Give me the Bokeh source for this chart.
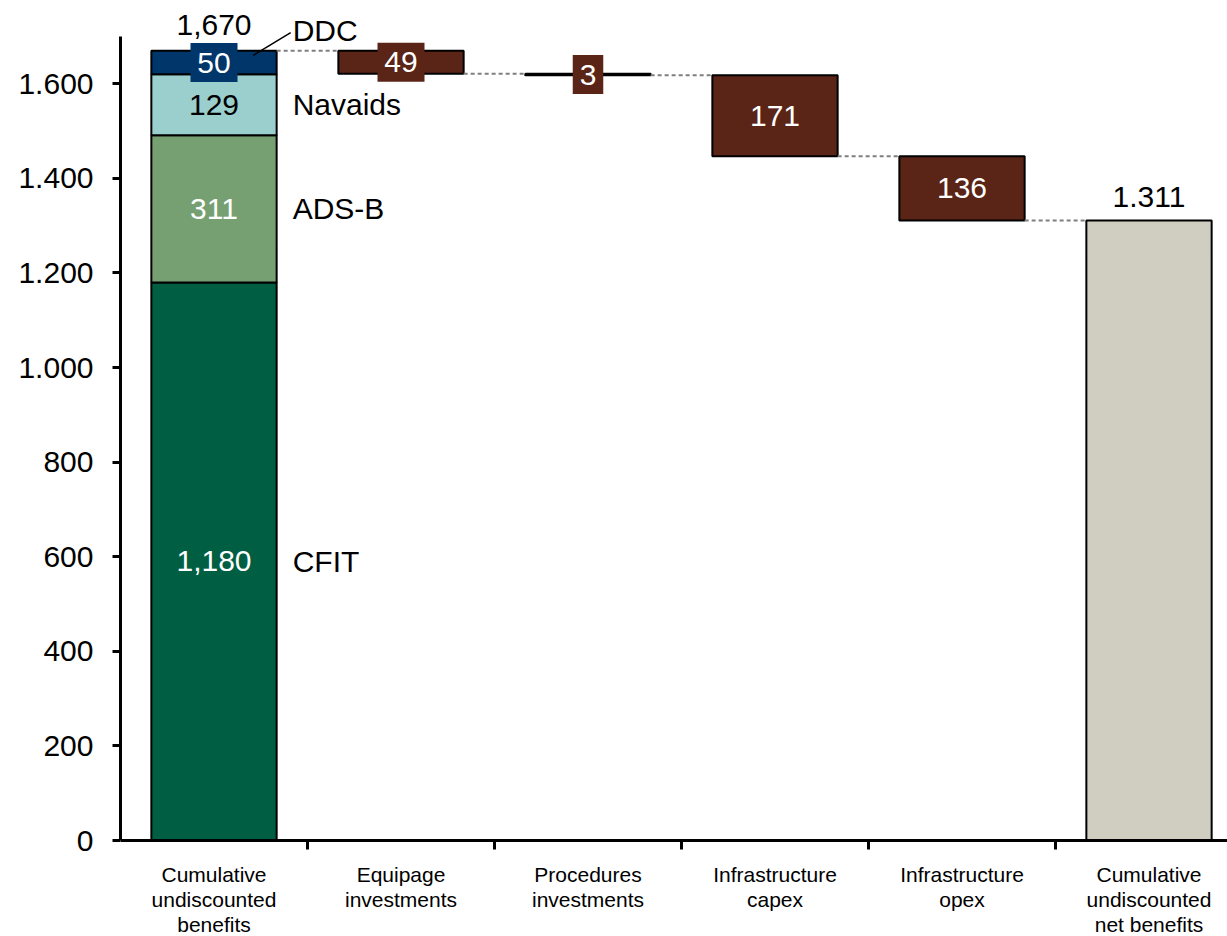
import numpy as np
from bokeh.plotting import figure
from bokeh.models import ColumnDataSource, LabelSet, Range1d, FixedTicker, Arrow
from bokeh.core.properties import value
from bokeh.embed import file_html
from bokeh.resources import INLINE

# ---------------- data ----------------
categories = [
    "Cumulative\nundiscounted\nbenefits",
    "Equipage\ninvestments",
    "Procedures\ninvestments",
    "Infrastructure\ncapex",
    "Infrastructure\nopex",
    "Cumulative\nundiscounted\nnet benefits",
]
stack_names = ["CFIT", "ADS-B", "Navaids", "DDC"]
stack_values = [1180, 311, 129, 50]
stack_labels = ["1,180", "311", "129", "50"]
step_values = [49, 3, 171, 136]
step_labels = ["49", "3", "171", "136"]
total_label = "1,670"
net_label = "1.311"
y_ticks = [0, 200, 400, 600, 800, 1000, 1200, 1400, 1600]
y_tick_labels = ["0", "200", "400", "600", "800", "1.000", "1.200", "1.400", "1.600"]
y_axis_max = 1700

# ---------------- styles / layout ----------------
FONT = "Liberation Sans"
stack_colors = ["#005E43", "#76A071", "#9BCFCE", "#00366A"]
stack_text_colors = ["white", "white", "black", "white"]
STEP_COLOR = "#5A2416"
NET_COLOR = "#D0CEC1"
BAR_W = 0.67
BIG = "30px"
SMALL = "21px"
W, H = 1227, 936
LEFT = 120          # px of y axis
ZERO_PX = 840       # px of y = 0
TOP_PX = 36         # px of y = y_axis_max
CAT_PX = 187        # px per category
k = (ZERO_PX - TOP_PX) / y_axis_max   # px per unit

xs = np.arange(len(categories)) + 0.5
stack_tops = np.cumsum(stack_values)
stack_bottoms = stack_tops - np.array(stack_values)
stack_mids = (stack_tops + stack_bottoms) / 2
total = stack_tops[-1]
running = total - np.cumsum(step_values)
step_tops = np.concatenate([[total], running[:-1]])
step_bottoms = running
step_mids = (step_tops + step_bottoms) / 2
net = running[-1]

p = figure(width=W, height=H, output_backend="svg", toolbar_location=None,
           x_range=Range1d(0, (W - LEFT) / CAT_PX),
           y_range=Range1d(-(H - ZERO_PX) / k, ZERO_PX / k),
           min_border_left=LEFT, min_border_right=0, min_border_top=0,
           min_border_bottom=0)
p.outline_line_color = None
p.xgrid.visible = False
p.ygrid.visible = False
p.background_fill_color = "white"
p.border_fill_color = "white"

# stacked first bar
p.vbar(x=[xs[0]] * len(stack_values), width=BAR_W, top=stack_tops, bottom=stack_bottoms,
       fill_color=stack_colors, line_color="black", line_width=2)
# step bars
p.vbar(x=xs[1:5], width=BAR_W, top=step_tops, bottom=step_bottoms,
       fill_color=STEP_COLOR, line_color="black", line_width=2)
# net bar
p.vbar(x=[xs[5]], width=BAR_W, top=[net], bottom=[0],
       fill_color=NET_COLOR, line_color="black", line_width=2)

# connectors
levels = np.concatenate([[total], running])
p.segment(x0=xs[:-1] + BAR_W / 2, x1=xs[1:] - BAR_W / 2, y0=levels, y1=levels,
          line_color="#7F7F7F", line_width=2, line_dash="4 3")

# label boxes (DDC + steps)
box_text = [stack_labels[3]] + step_labels
box_src = ColumnDataSource(dict(
    x=[xs[0]] + list(xs[1:5]),
    y=[stack_mids[3]] + list(step_mids),
    w=[16.5 * len(t) + 14 for t in box_text],
    c=[stack_colors[3]] + [STEP_COLOR] * 4,
))
p.rect(x="x", y="y", width="w", height=39, width_units="screen", height_units="screen",
       fill_color="c", line_color=None, source=box_src)

# value labels
val_src = ColumnDataSource(dict(
    x=[xs[0]] * 4 + list(xs[1:5]),
    y=list(stack_mids) + list(step_mids),
    t=stack_labels + step_labels,
    c=stack_text_colors + ["white"] * 4,
))
p.add_layout(LabelSet(x="x", y="y", text="t", source=val_src, text_color="c",
                      text_align="center", text_baseline="middle",
                      text_font=value(FONT), text_font_size=BIG))

# side labels
side_src = ColumnDataSource(dict(
    x=[xs[0] + BAR_W / 2] * 4, y=stack_mids, t=stack_names, yo=[0, 0, 0, 32]))
p.add_layout(LabelSet(x="x", y="y", text="t", source=side_src, x_offset=16, y_offset="yo",
                      text_color="black", text_align="left", text_baseline="middle",
                      text_font=value(FONT), text_font_size=BIG))
p.add_layout(Arrow(end=None, x_start=xs[0] + 0.21, y_start=stack_bottoms[3] + 0.8 * stack_values[3],
                   x_end=xs[0] + BAR_W / 2 + 0.075, y_end=stack_tops[3] + 38,
                   line_color="black", line_width=1.5))

# totals
tot_src = ColumnDataSource(dict(x=[xs[0], xs[5]], y=[total, net], t=[total_label, net_label],
                                yo=[16, 13]))
p.add_layout(LabelSet(x="x", y="y", text="t", source=tot_src, y_offset="yo",
                      text_color="black", text_align="center", text_baseline="alphabetic",
                      text_font=value(FONT), text_font_size=BIG))

# y axis
ya = p.yaxis[0]
ya.bounds = (0, y_axis_max)
ya.ticker = FixedTicker(ticks=y_ticks, minor_ticks=[])
ya.major_label_overrides = {t: l for t, l in zip(y_ticks, y_tick_labels)}
ya.major_label_text_font = FONT
ya.major_label_text_font_size = BIG
ya.major_label_text_color = "black"
ya.major_label_standoff = 19
ya.major_tick_in = 0
ya.major_tick_out = 8
ya.major_tick_line_width = 3
ya.axis_line_width = 3
ya.minor_tick_line_color = None

# x axis drawn at y = 0, category labels at centres, boundary ticks as minor ticks
xa = p.xaxis[0]
xa.fixed_location = 0
xa.ticker = FixedTicker(ticks=list(xs), minor_ticks=list(range(1, len(categories))))
xa.major_label_overrides = {float(x): c for x, c in zip(xs, categories)}
xa.major_label_text_font = FONT
xa.major_label_text_font_size = SMALL
xa.major_label_text_color = "black"
xa.major_label_text_line_height = 1.1
xa.major_label_standoff = 13
xa.major_tick_in = 0
xa.major_tick_out = 0
xa.minor_tick_in = 0
xa.minor_tick_out = 9
xa.minor_tick_line_width = 3
xa.minor_tick_line_color = "black"
xa.axis_line_width = 3

open("out.html", "w").write(file_html(p, INLINE))
